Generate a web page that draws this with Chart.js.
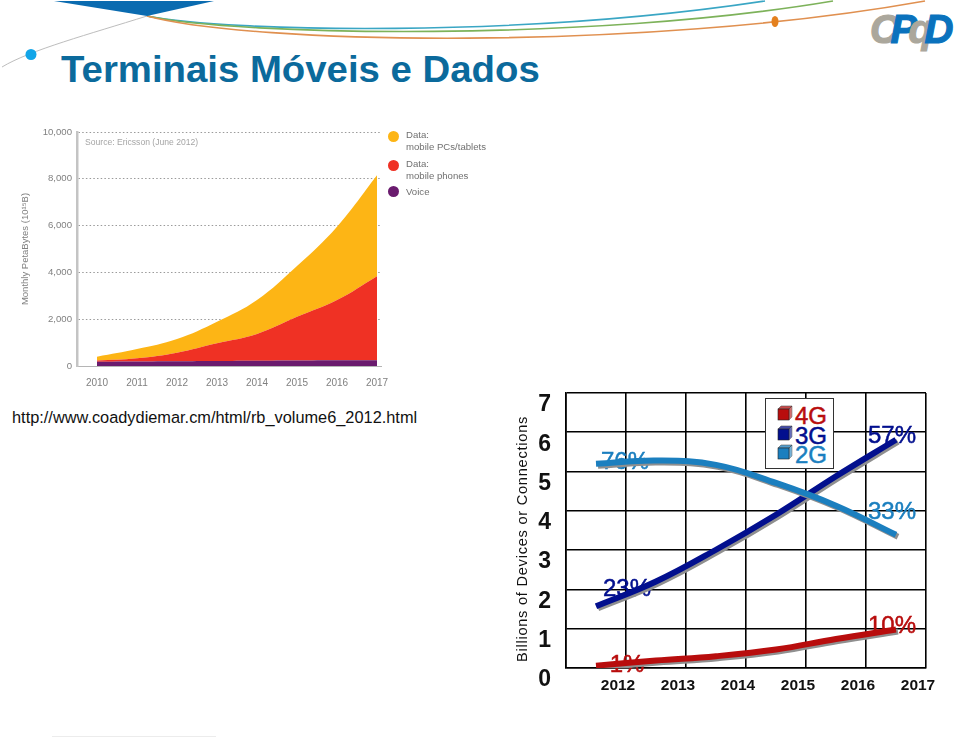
<!DOCTYPE html>
<html><head><meta charset="utf-8">
<script src="https://cdn.jsdelivr.net/npm/chart.js@4"></script>
<style>
html,body{margin:0;padding:0;background:#fff;}
#page{position:relative;width:960px;height:738px;overflow:hidden;font-family:"Liberation Sans",Arial,sans-serif;}
#page>*{position:absolute;}
#deco{left:0;top:0;}
#title{left:61px;top:49px;font-size:36px;font-weight:bold;color:#0b6a9c;white-space:nowrap;line-height:42px;transform-origin:left top;transform:scaleX(1.065);}
#logo{left:870px;top:6px;font-size:40px;font-weight:bold;font-style:italic;letter-spacing:-8.5px;line-height:46px;white-space:nowrap;-webkit-text-stroke:1.2px;}
#url{left:12px;top:408px;font-size:16.35px;color:#111;white-space:nowrap;}
#foot{left:52px;top:736px;width:164px;height:1px;background:#ececec;}
#wrapA{left:0;top:110px;width:500px;height:290px;filter:blur(0.4px);}
#wrapB{left:500px;top:380px;width:440px;height:320px;}
#legA{left:388px;top:129px;font-size:9.6px;line-height:11.5px;color:#707070;filter:blur(0.3px);}
.legA-row{position:absolute;left:18px;white-space:nowrap;}
.legA-dot{position:absolute;left:-18px;top:0;width:11px;height:11px;border-radius:50%;}
#legB{left:765px;top:398px;width:67px;height:69px;background:#fff;border:1px solid #333;}
.legB-row{position:absolute;left:11px;width:56px;height:20px;}
.legB-row span{position:absolute;left:18px;top:0px;font-size:24px;line-height:22px;-webkit-text-stroke:0.5px;}
.legB-row svg{position:absolute;left:0;top:0;}
</style></head><body>
<div id="page">
<svg id="deco" width="960" height="110">
  <path d="M2,67 C30,50 90,34 147,16" fill="none" stroke="#bdbdbd" stroke-width="1"/>
  <circle cx="31" cy="54.5" r="5.5" fill="#12a5e8"/>
  <path d="M147,16 C230,32 520,38 765,1" fill="none" stroke="#3aa6c4" stroke-width="1.6"/>
  <path d="M147,16 C240,36 590,42 833,1" fill="none" stroke="#7db25a" stroke-width="1.6"/>
  <path d="M147,16 C250,44 640,52 925,1" fill="none" stroke="#e09050" stroke-width="1.6"/>
  <polygon points="54,1 214,1 147,16" fill="#0a6bb0"/>
  <ellipse cx="775" cy="21.5" rx="3.5" ry="5.5" fill="#e4801e"/>
</svg>
<div id="title">Terminais Móveis e Dados</div>
<div id="logo"><span style="color:#aba79c">C</span><span style="color:#0a72bd">P</span><span style="color:#aba79c">q</span><span style="color:#0a72bd">D</span></div>
<div id="wrapA"><canvas id="chartA" width="500" height="290"></canvas></div>
<div id="legA"></div>
<div id="url">http://www.coadydiemar.cm/html/rb_volume6_2012.html</div>
<div id="wrapB"><canvas id="chartB" width="440" height="320"></canvas></div>
<div id="legB"></div>
<div id="foot"></div>
</div>
<script>
// ---- Left chart data (monthly PetaBytes)
const trafficYears = [2010,2011,2012,2013,2014,2015,2016,2017];
const voice   = [185,195,205,215,225,235,245,250];
const phones  = [45,135,365,755,1145,1865,2575,3590];
const pcs     = [170,395,580,920,1450,2170,3130,4310];
const trafficTicks = [0,2000,4000,6000,8000,10000];
const trafficLegend = [["Data:","mobile PCs/tablets"],["Data:","mobile phones"],["Voice"]];
const trafficColors = ["#fdb515","#ef3124","#6a1b6e"];

// ---- Right chart data (billions of devices or connections)
const devYears = ["2012","2013","2014","2015","2016","2017"];
const g2 = [5.2,5.28,5.17,4.71,4.13,3.39];
const g3 = [1.57,2.2,3.01,3.9,4.88,5.81];
const g4 = [0.06,0.19,0.3,0.47,0.74,0.98];
const g2Labels = ["76%","33%"];
const g3Labels = ["23%","57%"];
const g4Labels = ["1%","10%"];
const genNames = ["4G","3G","2G"];
const genColors = ["#b80d0d","#020f8e","#1b7fbf"];

const font = '"Liberation Sans", Arial, sans-serif';
const pts = a => trafficYears.map((x,i)=>({x,y:a[i]}));

new Chart(document.getElementById('chartA'),{
  type:'line',
  data:{datasets:[
    {label:'Voice',data:pts(voice),backgroundColor:trafficColors[2],fill:'origin'},
    {label:'Data: mobile phones',data:pts(phones),backgroundColor:trafficColors[1],fill:'-1'},
    {label:'Data: mobile PCs/tablets',data:pts(pcs),backgroundColor:trafficColors[0],fill:'-1'}
  ]},
  options:{
    responsive:false,animation:false,
    layout:{padding:{top:22,right:119,left:0,bottom:0}},
    elements:{point:{radius:0},line:{borderWidth:0,tension:0.4}},
    plugins:{legend:{display:false},tooltip:{enabled:false}},
    scales:{
      x:{type:'linear',min:2009.5,max:2017.1,
        afterBuildTicks:s=>{s.ticks=trafficYears.map(value=>({value}));},
        afterFit:s=>{s.height=34;},
        grid:{display:false},border:{color:'#b5b5b5',width:1},
        ticks:{color:'#808080',font:{family:font,size:10},padding:3,maxRotation:0,autoSkip:false,callback:v=>String(v)}},
      y:{stacked:true,min:0,max:10000,
        afterBuildTicks:s=>{s.ticks=trafficTicks.map(value=>({value}));},
        afterFit:s=>{s.width=77;},
        grid:{color:c=>c.tick&&c.tick.value===0?'rgba(0,0,0,0)':'#9a9a9a',drawTicks:false},
        border:{color:'#c4c4c4',width:2.5,dash:[1.5,2.2],display:true},
        title:{display:true,text:'Monthly PetaBytes (10\u00B9\u2075B)',color:'#808080',font:{family:font,size:9.5},padding:{top:20,bottom:14}},
        ticks:{color:'#808080',font:{family:font,size:9.6},padding:5,callback:v=>v.toLocaleString('en-US')}}
    }
  },
  plugins:[{id:'srcNote',afterDraw(c){const x=c.ctx;x.save();x.font='8.6px '+font;x.fillStyle='#a5a5a5';x.textBaseline='middle';x.fillText('Source: Ericsson (June 2012)',c.chartArea.left+8,33);x.restore();}}]
});

// left legend
(function(){
  const box=document.getElementById('legA');
  const tops=[0,29,56.5];
  trafficLegend.forEach((lines,i)=>{
    const r=document.createElement('div');r.className='legA-row';r.style.top=tops[i]+'px';
    r.innerHTML='<div class="legA-dot" style="background:'+trafficColors[i]+';top:'+(lines.length>1?1.5:0)+'px"></div>'+lines.join('<br>');
    box.appendChild(r);
  });
})();

const lineLabelOffsets = {first:[[29,-1.5],[31,-16.5],[31,-0.5]],last:[[-4,-22.5],[-4,-3.5],[-4,-3.5]]};
const seriesLabels=[g2Labels,g3Labels,g4Labels];
const seriesColors=[genColors[2],genColors[1],genColors[0]];

new Chart(document.getElementById('chartB'),{
  type:'line',
  data:{labels:devYears,datasets:[
    {label:'2G',data:g2,borderColor:genColors[2]},
    {label:'3G',data:g3,borderColor:genColors[1]},
    {label:'4G',data:g4,borderColor:genColors[0]}
  ]},
  options:{
    responsive:false,animation:false,
    layout:{padding:{top:13,right:14,left:0,bottom:0}},
    elements:{point:{radius:0},line:{borderWidth:6,tension:0.4,borderCapStyle:'butt'}},
    plugins:{legend:{display:false},tooltip:{enabled:false}},
    scales:{
      x:{type:'category',offset:true,
        afterFit:s=>{s.height=32;s.paddingLeft=0;s.paddingRight=0;},
        grid:{color:'#000',lineWidth:1.6,drawTicks:false,offset:true},
        border:{color:'#000',width:1.6},
        ticks:{color:'#111',font:{family:font,size:15.5,weight:'bold'},labelOffset:22,padding:8,maxRotation:0,autoSkip:false}},
      y:{min:0,max:7,
        afterFit:s=>{s.width=66;s.paddingTop=0;s.paddingBottom=0;},
        grid:{color:'#000',lineWidth:1.6,drawTicks:false},
        border:{color:'#000',width:1.6},
        ticks:{stepSize:1,color:'#111',font:{family:font,size:23,weight:'bold'},labelOffset:12,padding:15}}
    }
  },
  plugins:[{
    id:'pctLabels',
    beforeDatasetsDraw(c){
      const ctx=c.ctx;ctx.save();
      ctx.font='24px '+font;ctx.textAlign='center';ctx.textBaseline='middle';ctx.lineWidth=0.5;
      c.data.datasets.forEach((d,i)=>{
        const n=d.data.length-1;
        ctx.fillStyle=ctx.strokeStyle=seriesColors[i];
        const xs=c.scales.x,ys=c.scales.y;
        [[seriesLabels[i][0],0,lineLabelOffsets.first[i]],[seriesLabels[i][1],n,lineLabelOffsets.last[i]]].forEach(([t,k,o])=>{
          const px=xs.getPixelForValue(k)+o[0],py=ys.getPixelForValue(d.data[k])+o[1];
          ctx.fillText(t,px,py);ctx.strokeText(t,px,py);
        });
      });
      ctx.restore();
    },
    beforeDatasetDraw(c){const x=c.ctx;x.save();x.shadowColor='#8f8f8f';x.shadowOffsetX=2;x.shadowOffsetY=2;x.shadowBlur=0;},
    afterDatasetDraw(c){c.ctx.restore();},
    afterDraw(c){
      const x=c.ctx;x.save();x.translate(23,159);x.rotate(-Math.PI/2);
      x.font='14.6px '+font;x.letterSpacing='0.75px';x.fillStyle='#111';x.textAlign='center';x.textBaseline='middle';
      x.fillText('Billions of Devices or Connections',0,0);x.restore();
    }
  }]
});

// right legend
(function(){
  const box=document.getElementById('legB');
  genNames.forEach((n,i)=>{
    const c=genColors[i];
    const r=document.createElement('div');r.className='legB-row';r.style.top=(6+i*19.7)+'px';
    r.innerHTML='<svg width="17" height="17"><polygon points="1,4 4,1 15,1 12,4" fill="'+c+'" opacity="0.75" stroke="#222" stroke-width="0.6"/>'+
      '<polygon points="12,4 15,1 15,12 12,15" fill="'+c+'" opacity="0.6" stroke="#222" stroke-width="0.6"/>'+
      '<rect x="1" y="4" width="11" height="11" fill="'+c+'" stroke="#222" stroke-width="0.6"/></svg><span style="color:'+c+'">'+n+'</span>';
    box.appendChild(r);
  });
})();
</script>
</body></html>
